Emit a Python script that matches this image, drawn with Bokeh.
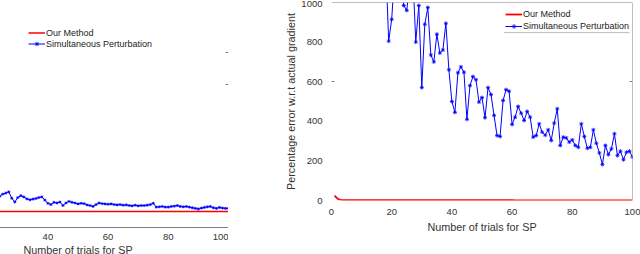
from bokeh.plotting import figure
from bokeh.models import FixedTicker, LinearAxis, Legend, LegendItem, BoxAnnotation, Span
from bokeh.layouts import row
from bokeh.embed import file_html
from bokeh.resources import INLINE

FONT = "Liberation Sans"
BLUE = "#0000FF"
RED = "#FF0000"
SPINE = "#808080"
TXT = "#333333"

# ---------------- data: left panel (cropped) ----------------
left_trials = list(range(24, 101))
left_sp = [48, 55, 58, 62, 42, 30, 44, 50, 46, 40,
           37, 39, 41, 44, 46, 36, 26, 22, 29, 27,
           30, 19, 27, 32, 29, 27, 24, 26, 25, 21,
           19, 16, 22, 27, 25, 24, 23, 24, 22, 21,
           22, 20, 21, 19, 18, 20, 18, 19, 19, 20,
           22, 26, 14, 15, 16, 14, 14, 16, 17, 19,
           16, 15, 16, 14, 12, 10, 8, 11, 13, 15,
           16, 12, 10, 13, 11, 10, 10]
left_ours = [0, 0, 0, 0, 0, 0, 0, 0, 0, 0,
             0, 0, 0, 0, 0, 0, 0, 0, 0, 0,
             0, 0, 0, 0, 0, 0, 0, 0, 0, 0,
             0, 0, 0, 0, 0, 0, 0, 0, 0, 0,
             0, 0, 0, 0, 0, 0, 0, 0, 0, 0,
             0, 0, 0, 0, 0, 0, 0, 0, 0, 0,
             0, 0, 0, 0, 0, 0, 0, 0, 0, 0,
             0, 0, 0, 0, 0, 0, 0]
left_x_ticks = [40, 60, 80, 100]
left_y_marks = [400, 500]
left_y_box = (-50, 600)

# ---------------- data: right panel ----------------
right_trials = list(range(1, 101))
right_sp = [4800, 3900, 3500, 2900, 3100, 2600, 2300, 2500, 2000, 1900,
            2100, 1700, 1600, 1800, 1450, 1500, 1300, 1200, 805, 915,
            1150, 1250, 1100, 985, 960, 1100, 1150, 800, 985, 570,
            890, 975, 735, 700, 840, 745, 760, 895, 660, 500,
            445, 645, 675, 648, 410, 580, 626, 610, 497, 520,
            418, 570, 535, 430, 328, 323, 505, 560, 552, 384,
            421, 475, 441, 404, 450, 421, 320, 328, 387, 345,
            330, 357, 303, 391, 463, 278, 320, 316, 295, 306,
            278, 269, 387, 323, 264, 269, 357, 289, 240, 182,
            278, 232, 261, 337, 227, 249, 206, 244, 249, 219]
right_ours = [25, 9, 3, 2, 2, 2, 2, 2, 2, 2,
              2, 2, 2, 2, 2, 2, 2, 2, 2, 2,
              2, 2, 2, 2, 2, 2, 2, 2, 2, 2,
              2, 2, 2, 2, 2, 2, 2, 2, 2, 2,
              2, 2, 2, 2, 2, 2, 2, 2, 2, 2,
              2, 2, 2, 2, 2, 2, 2, 2, 2, 2,
              1, 1, 1, 1, 1, 1, 1, 1, 1, 1,
              1, 1, 1, 1, 1, 1, 1, 1, 1, 1,
              1, 1, 1, 1, 1, 1, 1, 1, 1, 1,
              1, 1, 1, 1, 1, 1, 1, 1, 1, 1]
right_x_ticks = [0, 20, 40, 60, 80, 100]
right_y_ticks = [0, 200, 400, 600, 800, 1000]
right_y_marks = [600]

labels = ["Our Method", "Simultaneous Perturbation"]
x_title = "Number of trials for SP"
y_title = "Percentage error w.r.t actual gradient"


def style_axis(ax, label_size="9.5px"):
    ax.major_label_text_font = FONT
    ax.major_label_text_font_size = label_size
    ax.major_label_text_color = TXT
    ax.axis_label_text_font = FONT
    ax.axis_label_text_font_size = "10.8px"
    ax.axis_label_text_font_style = "normal"
    ax.axis_label_text_color = TXT
    ax.major_tick_line_color = None
    ax.minor_tick_line_color = None


def make_legend(renderers, loc, row_h):
    return Legend(
        items=[LegendItem(label=labels[0], renderers=renderers[0]),
               LegendItem(label=labels[1], renderers=renderers[1])],
        location=loc, orientation="vertical", padding=0, margin=0, spacing=0,
        glyph_width=17, glyph_height=row_h, label_height=row_h, label_standoff=1,
        label_text_font=FONT, label_text_font_size="9px", label_text_color="#222222",
        border_line_color=None, background_fill_alpha=0)


# ---------------- left figure (frame top extended; its top edge is not drawn) ----------------
p1 = figure(frame_width=301, frame_height=225, x_range=(0, 100), y_range=(-50, 656.6),
            min_border_left=0, min_border_right=0, min_border_top=2, min_border_bottom=26,
            y_axis_location=None, toolbar_location=None, output_backend="svg",
            outline_line_color=None, background_fill_color="white", border_fill_color="white")
p1.grid.visible = False
p1.xaxis.ticker = FixedTicker(ticks=left_x_ticks)
style_axis(p1.xaxis[0])
p1.xaxis.axis_line_color = SPINE
p1.xaxis.major_label_standoff = 0
p1.xaxis.axis_label = x_title
p1.xaxis.axis_label_standoff = 1

r1_ours = p1.line(left_trials, left_ours, color=RED, line_width=1.5)
r1_sp = p1.line(left_trials, left_sp, color=BLUE, line_width=1)
r1_pts = p1.scatter(left_trials, left_sp, marker="asterisk", size=3, line_color=BLUE, line_width=0.8)

ax1r = LinearAxis(fixed_location=100, bounds=left_y_box,
                  ticker=FixedTicker(ticks=[], minor_ticks=left_y_marks),
                  axis_line_color=SPINE, major_tick_line_color=None,
                  minor_tick_in=3, minor_tick_out=0, minor_tick_line_color=SPINE)
p1.add_layout(ax1r, "right")
p1.add_layout(make_legend([[r1_ours], [r1_sp, r1_pts]], (101, 178), 11))

# ---------------- right figure ----------------
p2 = figure(frame_width=301, frame_height=198, x_range=(0, 100), y_range=(0, 1000),
            min_border_left=103, min_border_right=8, min_border_top=2, min_border_bottom=52,
            toolbar_location=None, output_backend="svg",
            outline_line_color=None, background_fill_color="white", border_fill_color="white")
p2.grid.visible = False
p2.xaxis.ticker = FixedTicker(ticks=right_x_ticks)
p2.yaxis.ticker = FixedTicker(ticks=right_y_ticks, minor_ticks=right_y_marks)
style_axis(p2.xaxis[0])
style_axis(p2.yaxis[0])
p2.xaxis.axis_line_color = None
p2.yaxis.axis_line_color = None
p2.yaxis.minor_tick_line_color = SPINE
p2.yaxis.minor_tick_in = 3
p2.yaxis.minor_tick_out = 0
p2.xaxis.major_label_standoff = 2
p2.yaxis.major_label_standoff = 3
p2.xaxis.axis_label = x_title
p2.xaxis.axis_label_standoff = 3
p2.yaxis.axis_label = y_title
p2.yaxis.axis_label_standoff = 1

r2_ours = p2.line(right_trials, right_ours, color=RED, line_width=1.8)
r2_sp = p2.line(right_trials, right_sp, color=BLUE, line_width=1)
r2_pts = p2.scatter(right_trials, right_sp, marker="asterisk", size=4, line_color=BLUE, line_width=0.8)

p2.add_layout(Span(location=1000, dimension="width", line_color=SPINE, line_width=1))
ax2r = LinearAxis(fixed_location=100, ticker=FixedTicker(ticks=[], minor_ticks=right_y_marks),
                  axis_line_color=SPINE, major_tick_line_color=None,
                  minor_tick_in=3, minor_tick_out=0, minor_tick_line_color=SPINE)
p2.add_layout(ax2r, "right")
p2.add_layout(make_legend([[r2_ours], [r2_sp, r2_pts]], (174, 168), 12))
p2.add_layout(BoxAnnotation(left=57.3, right=99.0, top=848, bottom=848,
                            fill_alpha=0, line_color=SPINE, line_width=1))

layout = row(p1, p2, styles={"position": "absolute", "left": "-73px", "top": "0px"})
open("out.html", "w").write(file_html(layout, INLINE))
